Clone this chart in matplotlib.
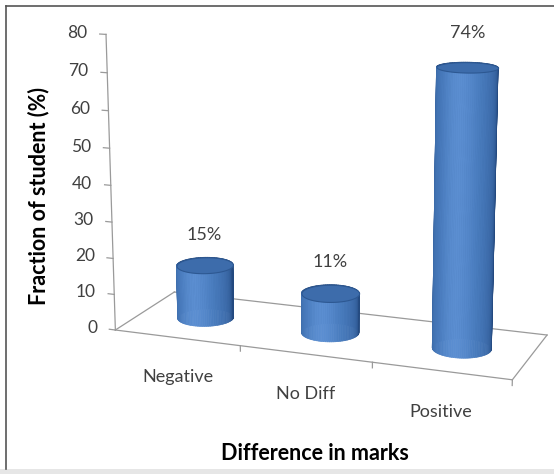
import numpy as np
import matplotlib
matplotlib.use("Agg")
import matplotlib.pyplot as plt
from matplotlib.colors import to_rgb
from matplotlib.lines import Line2D
from matplotlib.patches import Rectangle
from mpl_toolkits.mplot3d import proj3d
from mpl_toolkits.mplot3d.art3d import Poly3DCollection

categories = ["Negative", "No Diff", "Positive"]
values = [15, 11, 74]
value_labels = ["15%", "11%", "74%"]
value_ticks = [0, 10, 20, 30, 40, 50, 60, 70, 80]

plt.rcParams["font.family"] = ["Lato", "DejaVu Sans"]

W, H = 554, 474
fig = plt.figure(figsize=(W / 100, H / 100), dpi=100)
fig.patch.set_facecolor("white")

# 3D axes, square, placed so the scene sits right of the y title
side = 500
cx, cy = 323.5, 194
ax = fig.add_axes([(cx - side / 2) / W, (H - cy - side / 2) / H, side / W, side / H],
                  projection="3d", computed_zorder=False)
ax.set_axis_off()

n = len(categories)
depth = 1.0
x0, x1 = -0.5, n - 0.5
y0, y1 = -depth / 2, depth / 2
zmax = value_ticks[-1]
ax.set_xlim(x0, x1)
ax.set_ylim(y0, y1)
ax.set_zlim(0, zmax)
ax.set_box_aspect((x1 - x0, y1 - y0, 2.19), zoom=1.042)
ax.set_proj_type("persp", focal_length=0.63)
azim = -69.5
ax.view_init(elev=13.8, azim=azim)

grid_col = "#9a9a9a"
text_col = "#404040"


def line3(xs, ys, zs):
    ax.plot(xs, ys, zs, color=grid_col, lw=0.9, zorder=1)


def label3(x, y, z, s, **kw):
    # project a 3D anchor point and place an ordinary 2D text there
    px, py, _ = proj3d.proj_transform(x, y, z, ax.get_proj())
    ax.text2D(px, py, s, transform=ax.transData, zorder=5, **kw)


# floor outline
line3([x0, x1], [y0, y0], [0, 0])
line3([x0, x1], [y1, y1], [0, 0])
line3([x0, x0], [y0, y1], [0, 0])
line3([x1, x1], [y0, y1], [0, 0])
for b in np.arange(x0 + 1, x1 + 0.01, 1.0):
    line3([b, b], [y0, y0], [0, -1.5])

# value axis with ticks and labels
line3([x0, x0], [y0, y0], [0, zmax])
for v in value_ticks:
    line3([x0, x0 - 0.05], [y0, y0], [v, v])
    label3(x0 - 0.15, y0, v, str(v), ha="right", va="center",
           fontsize=12.5, color=text_col)

# cylinders
r = 0.21
theta = np.linspace(0, 2 * np.pi, 97)
view_ang = np.deg2rad(azim)
dark = np.array(to_rgb("#23497f"))
mid = np.array(to_rgb("#4b7fc2"))
light = np.array(to_rgb("#5b8ed1"))
for i, v in enumerate(values):
    verts, cols = [], []
    for a, b in zip(theta[:-1], theta[1:]):
        ang = np.array([a, b, b, a])
        xs = i + r * np.cos(ang)
        ys = r * np.sin(ang)
        zs = [0, 0, v, v]
        verts.append(list(zip(xs, ys, zs)))
        facing = np.cos(0.5 * (a + b) - (view_ang - 0.3))
        s = np.clip(facing, 0, 1) ** 0.45
        c = dark * (1 - s) + mid * s
        c = c + (light - mid) * np.clip(facing, 0, 1) ** 8
        cols.append(np.clip(c, 0, 1))
    body = Poly3DCollection(verts, facecolors=cols, edgecolors=cols,
                            linewidths=0.5, zorder=2)
    ax.add_collection3d(body)
    top = Poly3DCollection([list(zip(i + r * np.cos(theta), r * np.sin(theta),
                                     np.full_like(theta, v)))],
                           facecolors="#3d6cab", edgecolors="#2d5892",
                           linewidths=0.8, zorder=3)
    ax.add_collection3d(top)
    label3(i, 0, v + 8.5, value_labels[i], ha="center", va="center",
           fontsize=13, color=text_col)
    label3(i, y0, -11, categories[i], ha="center", va="center",
           fontsize=13, color=text_col)

# axis titles
fig.text(39 / W, 1 - 196 / H, "Fraction of student (%)", rotation=90,
         ha="center", va="center", fontsize=15.5, fontweight="bold")
fig.text(315 / W, 1 - 454 / H, "Difference in marks",
         ha="center", va="center", fontsize=15.5, fontweight="bold")

# frame
fig.add_artist(Line2D([6 / W, 6 / W], [1 - 6 / H, 1 - 469 / H],
                      transform=fig.transFigure, color="#555555", lw=1.2))
fig.add_artist(Line2D([6 / W, 1], [1 - 6 / H, 1 - 6 / H],
                      transform=fig.transFigure, color="#555555", lw=1.2))
fig.add_artist(Rectangle((0, 0), 1, 5 / H, transform=fig.transFigure,
                         facecolor="#e6e6e6", edgecolor="none"))

fig.savefig("out.png", dpi=100)
